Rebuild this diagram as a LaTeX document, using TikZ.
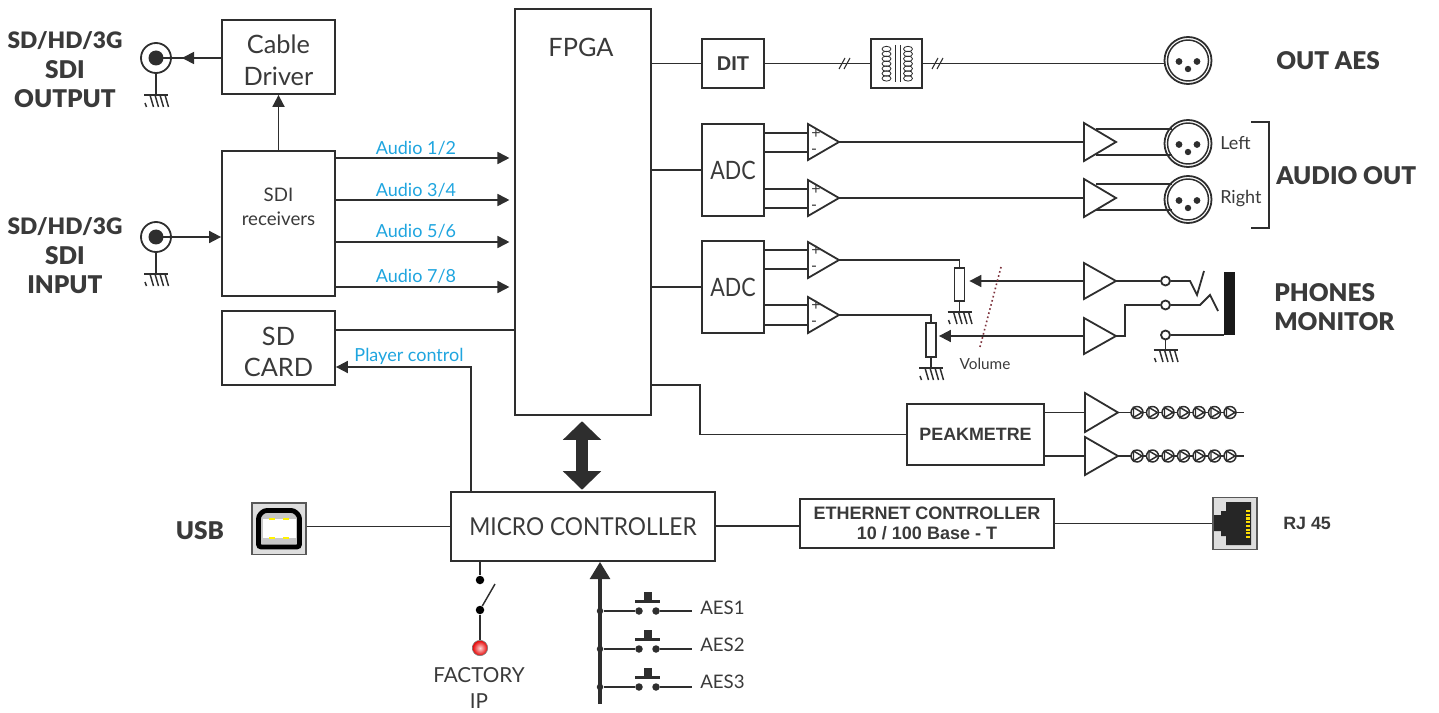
\documentclass[tikz,border=0pt]{standalone}
\usepackage{fontspec}
\setmainfont{Lato}
\newfontfamily\arialf{Liberation Sans}
\newfontfamily\heavy{Lato Black}
\newfontfamily\narrowf[FakeStretch=0.85]{Lato}
\newfontfamily\narrowg[FakeStretch=0.92]{Lato}
\usetikzlibrary{arrows.meta,calc}
\definecolor{ink}{HTML}{2E2E2E}
\definecolor{txt}{HTML}{3A3A3A}
\definecolor{blu}{HTML}{1FA5DF}
\newcommand{\fs}[1]{\fontsize{#1}{#1}\selectfont}
\tikzset{
 x=0.75pt,y=-0.75pt,
 wire/.style={draw=ink,line width=1.35pt},
 thin wire/.style={draw=ink,line width=1.1pt},
 arr/.style={wire,-{Triangle[length=9pt,width=9pt]}},
 box/.style 2 args={draw=ink,line width=1.35pt,fill=white,minimum width=#1*0.75pt,minimum height=#2*0.75pt,inner sep=0pt,align=center,text=txt},
 big/.style={font=\fs{19},text=txt,align=center,inner sep=0pt},
 adcf/.style={font=\narrowf\fs{19}},
 head/.style={font=\heavy\fs{18.3},text=txt,align=center,inner sep=0pt},
 headb/.style={font=\heavy\fs{17},text=txt,align=center,inner sep=0pt},
 blab/.style={font=\fs{13.5},text=blu,inner sep=0pt},
 glab/.style={font=\fs{13},text=txt,inner sep=0pt,align=center},
 port/.style={circle,draw=ink,line width=1.35pt,fill=white,inner sep=0pt,minimum size=#1*0.75pt},
 dot/.style={circle,fill=black,inner sep=0pt,minimum size=#1*0.75pt},
}
\newcommand{\gnd}[2]{%
 \draw[thin wire] (#1-12,#2) -- (#1+12,#2);
 \foreach \k in {0,1,2,3}{\draw[thin wire] (#1-6+\k*5,#2) -- (#1-2.5+\k*5,#2+12);}
 \draw[thin wire] (#1-11,#2+8) -- (#1-9.5,#2+12);}
% name, left x, top y, bottom y, tip x
\newcommand{\amp}[5]{%
 \coordinate (#1) at (#5,{(#3+#4)/2});
 \coordinate (#1-w) at (#2,{(#3+#4)/2});
 \draw[wire,line join=miter,fill=white] (#2,#3) -- (#5,{(#3+#4)/2}) -- (#2,#4) -- cycle;}
\newcommand{\plusminus}[2]{%
 \node[text=txt,inner sep=0pt,font=\fs{12}] at (#1+8,#2-9) {+};
 \node[text=txt,inner sep=0pt,font=\fs{12}] at (#1+6,#2+9) {-};}
\newcommand{\xlr}[3]{%
 \node[port=47] (#1) at (#2,#3) {};
 \draw[thin wire] (#2,#3) circle (20.5);
 \fill[ink] (#2-9,#3+1) circle (3.4);
 \fill[ink] (#2+9,#3+1) circle (3.4);
 \fill[ink] (#2,#3+8.5) circle (3.2);}
\newcommand{\ledrow}[2]{%
 \draw[thin wire] (#1,#2) -- (1244,#2);
 \foreach \k in {0,...,6}{
  \draw[thin wire,fill=white] (1137+\k*15.5,#2) circle (6);
  \draw[thin wire] (1133.5+\k*15.5,#2-5) -- (1142+\k*15.5,#2) -- (1133.5+\k*15.5,#2+5) -- cycle;}}
\begin{document}
\begin{tikzpicture}
\useasboundingbox (0,0) rectangle (1439,713);
% ---- main boxes
\node[box={113}{74}] (cable) at (278.5,57) {};
\node[big] (cablet) at (278.5,60) {Cable\\[5pt]Driver};
\node[box={113}{145}] (sdi) at (278.5,223.5) {};
\node[glab,font=\fs{14}] (sdit) at (278.5,207) {SDI\\[4pt]receivers};
\node[box={113}{74}] (card) at (278.5,348) {};
\node[big] (cardt) at (278.5,352) {SD\\[4pt]CARD};
\node[box={136}{406}] (fpga) at (583,212) {};
\node[big] (fpgat) at (581,47) {FPGA};
\node[box={62}{49},font=\fs{15}\arialf\bfseries] (dit) at (733,63.5) {DIT};
\node[box={51}{49}] (trf) at (896.5,63.5) {};
\node[box={62}{92},adcf] (adca) at (733,170) {ADC};
\node[box={62}{92},adcf] (adcb) at (733,287) {ADC};
\node[box={137}{61},font=\fs{13.4}\arialf\bfseries] (peak) at (975.5,434.5) {PEAKMETRE};
\node[box={264}{69},font=\narrowg\fs{18.5}] (micro) at (583,526.5) {MICRO CONTROLLER};
\node[box={254}{49},font=\fs{13.5}\arialf\bfseries] (eth) at (927,523.5) {ETHERNET CONTROLLER\\[2pt]10 / 100 Base - T};
% ---- coax
\node[port=30] (bnca) at (156,58) {};
\node[port=30] (bncb) at (156,237) {};
\node[dot=15,fill=ink] (bnca-c) at (156,58) {};
\node[dot=15,fill=ink] (bncb-c) at (156,237) {};
\draw[wire] (bnca-c.center) -- (cable.west |- bnca-c);
\draw[arr] (cable.west |- bnca-c) -- (182,58);
\draw[arr,shorten >=0pt] (bncb-c.center) -- (sdi.west |- bncb-c);
\draw[wire] (bnca.south) -- (156,95); \gnd{156}{95}
\draw[wire] (bncb.south) -- (156,274); \gnd{156}{274}
\draw[arr] (sdi.north) -- (cable.south);
\node[headb] at (65,41) {SD/HD/3G}; \node[head] at (65,70) {SDI}; \node[head] at (65,99) {OUTPUT};
\node[headb] at (65,227) {SD/HD/3G}; \node[head] at (65,256) {SDI}; \node[head] at (65,285) {INPUT};
% ---- audio
\foreach \yy/\ly/\lbl in {158/148/{Audio 1\slash 2},200/190/{Audio 3\slash 4},242/231/{Audio 5\slash 6},287/276/{Audio 7\slash 8}}{
 \draw[arr,shorten >=3.5pt] (sdi.east |- 0,\yy) -- (fpga.west |- 0,\yy);
 \node[blab] at (416,\ly) {\lbl};}
\draw[wire] (card.east |- 0,330) -- (fpga.west |- 0,330);
\coordinate (pc) at (471,367);
\draw[arr] (micro.north -| pc) -- (pc) -- (card.east |- pc);
\node[blab] at (409,356) {Player control};
% ---- FPGA outs
\draw[wire] (fpga.east |- dit) -- (dit.west);
\draw[wire] (fpga.east |- adca) -- (adca.west);
\draw[wire] (fpga.east |- adcb) -- (adcb.west);
\coordinate (pk) at (700,385);
\draw[wire] (fpga.east |- pk) -- (pk) -- (pk |- peak) -- (peak.west);
\draw[line width=8.5pt,draw=ink,{Triangle[length=14pt,width=28pt]}-{Triangle[length=14pt,width=28pt]},shorten >=1pt,shorten <=4pt] (fpga.south -| 582,0) -- (micro.north -| 582,0);
% ---- AES out
\xlr{xa}{1188}{60.5}
\draw[thin wire] (dit.east) -- (trf.west);
\draw[thin wire] (trf.east) -- (xa.west |- trf);
\foreach \xx in {839,844,932,937}{\draw[line width=0.8pt,draw=ink] (\xx,69) -- (\xx+6,58);}
\foreach \k in {0,...,6}{
 \draw[line width=0.6pt,draw=ink] (886.5,{49+\k*4.9}) ellipse (4.5 and 2.7);
 \draw[line width=0.6pt,draw=ink] (908,{49+\k*4.9}) ellipse (4.5 and 2.7);}
\draw[line width=0.7pt,draw=ink] (895,45) -- (895,82) (900,45) -- (900,82);
\node[head,anchor=west] at (1276,61) {OUT AES};
% ---- audio out
\amp{oa}{808}{124}{160}{839}\plusminus{808}{142.5}
\amp{ob}{808}{180}{216}{839}\plusminus{808}{198.5}
\amp{oc}{808}{242}{278}{839}\plusminus{808}{260}
\amp{od}{808}{297}{333}{839}\plusminus{808}{315}
\foreach \yy in {133,152}{\draw[wire] (adca.east |- 0,\yy) -- (808,\yy);}
\foreach \yy in {189,208}{\draw[wire] (adca.east |- 0,\yy) -- (808,\yy);}
\foreach \yy in {250,269}{\draw[wire] (adcb.east |- 0,\yy) -- (808,\yy);}
\foreach \yy in {305,325}{\draw[wire] (adcb.east |- 0,\yy) -- (808,\yy);}
\xlr{xb}{1188}{143.5}
\xlr{xc}{1188}{199.5}
\amp{ba}{1084}{123}{161}{1116}
\amp{bb}{1084}{179}{217}{1116}
\draw[wire] (oa) -- (ba-w);
\draw[wire] (ob) -- (bb-w);
\draw[wire] (1096,129) -- (1172,129) (1096,155) -- (1172,155);
\draw[wire] (1096,184) -- (1172,184) (1096,210) -- (1172,210);
\node[glab,anchor=west,font=\fs{13.5}] at (1220,143) {Left};
\node[glab,anchor=west,font=\fs{13.5}] at (1220,199) {Right};
\draw[wire] (1251,122) -- (1269,122) -- (1269,228) -- (1251,228);
\node[head,anchor=west] at (1276,176) {AUDIO OUT};
% ---- phones
\node[draw=ink,line width=1.35pt,fill=white,minimum width=7.5pt,minimum height=24.5pt,inner sep=0pt] (pa) at (959.5,284.5) {};
\node[draw=ink,line width=1.35pt,fill=white,minimum width=7.5pt,minimum height=25.5pt,inner sep=0pt] (pb) at (931,340) {};
\draw[wire] (oc) -- (pa.north |- oc) -- (pa.north);
\draw[wire] (od) -- (pb.north |- od) -- (pb.north);
\draw[wire] (pa.south) -- (959.5,312); \gnd{959.5}{312}
\draw[wire] (pb.south) -- (931,368); \gnd{931}{368}
\amp{bc}{1084}{263}{299}{1116}
\amp{bd}{1084}{318}{354}{1116}
\draw[wire,-{Triangle[length=9pt,width=9pt]},shorten >=3pt] (bc-w) -- (pa.east |- bc-w);
\draw[wire,-{Triangle[length=9pt,width=9pt]},shorten >=1.5pt] (bd-w) -- (pb.east |- bd-w);
\draw[draw={rgb,255:red,125;green,50;blue,60},line width=1.2pt,dotted] (1001,267) -- (980,347);
\node[glab,font=\fs{11.5}] at (985,364) {Volume};
\node[port=9] (ja) at (1165.5,281) {};
\node[port=9] (jb) at (1165.5,305) {};
\node[port=9] (jc) at (1165.5,335) {};
\node[fill=black!90,minimum width=8.2pt,minimum height=47.5pt,inner sep=0pt] (jack) at (1229.5,303.5) {};
\draw[wire] (bc) -- (ja);
\coordinate (bend) at (1125,336);
\draw[wire] (bd) -- (bend) -- (bend |- jb) -- (jb);
\draw[wire,line join=miter] (ja) -- (1190,281) -- (1197,295) -- (1204,271);
\draw[wire,line join=miter] (jb) -- (1200,305) -- (1210,295) -- (1218,311);
\draw[wire] (jc) -- (jack.west |- jc);
\draw[wire] (jc) -- (1165.5,350); \gnd{1165.5}{350}
\node[head,anchor=west] at (1274,293) {PHONES};
\node[head,anchor=west] at (1274,322) {MONITOR};
% ---- peak
\amp{pp}{1085}{393}{432}{1118}
\amp{pq}{1085}{437}{475}{1118}
\draw[wire] (peak.east |- pp-w) -- (pp-w);
\draw[wire] (peak.east |- pq-w) -- (pq-w);
\ledrow{1118}{412.5}
\ledrow{1118}{456}
% ---- USB
\node[draw=ink!80,line width=1pt,fill=black!13,minimum width=40.5pt,minimum height=38.5pt,inner sep=0pt] (usb) at (279,528.5) {};
\draw[draw=black,line width=3.6pt,fill=black!22,rounded corners=2pt] (264,510.5) -- (294,510.5) -- (299.5,516) -- (299.5,547) -- (258.5,547) -- (258.5,516) -- cycle;
\fill[white] (263,519) rectangle (296,538);
\foreach \xx/\yy in {269/518,283/518,269/537,283/537}{\fill[yellow] (\xx,\yy) rectangle (\xx+6,\yy+2);}
\draw[wire] (usb.east |- micro) -- (micro.west);
\node[head] at (200,531) {USB};
% ---- ethernet
\draw[wire] (micro.east |- 0,526) -- (eth.west |- 0,526);
\node[draw=ink!80,line width=1pt,fill=black!13,minimum width=33pt,minimum height=39pt,inner sep=0pt] (rj) at (1235,523.5) {};
\fill[black!85] (1226,502) -- (1251,502) -- (1251,545) -- (1226,545) -- (1226,536) -- (1221,536) -- (1221,531) -- (1214,531) -- (1214,515) -- (1221,515) -- (1221,511) -- (1226,511) -- cycle;
\foreach \k in {0,...,7}{\fill[yellow!80!orange] (1246,{510+\k*3.7}) rectangle (1250,{512.2+\k*3.7});}
\draw[thin wire] (eth.east) -- (rj.west);
\node[font=\fs{13.4}\arialf\bfseries,text=txt,anchor=west,inner sep=0pt] at (1283,523) {RJ 45};
% ---- factory switch
\node[dot=8.5] (sa) at (480,580) {};
\node[dot=8.5] (sb) at (480,610) {};
\node[circle,inner sep=0pt,minimum size=11.5pt,inner color=red!15,outer color=red!90!black,draw=ink!60,line width=0.5pt] (led) at (480,648) {};
\coordinate (sc) at (495,584);
\draw[thin wire] (micro.south -| sa) -- (sa);
\draw[thin wire] (sb) -- (sc);
\draw[wire] (sb) -- (led);
\node[glab,font=\fs{15.5}] at (479,675) {FACTORY};
\node[glab,font=\fs{15.5}] at (479,701) {IP};
% ---- AES buttons
\coordinate (bus) at (600,704);
\draw[line width=2.6pt,draw=ink,-{Triangle[length=13pt,width=15pt]}] (bus) -- (micro.south -| bus);
\foreach \yy/\ly/\nm in {611/608/AES1,649/645/AES2,687/682/AES3}{
 \node[dot=6.5,fill=ink] (d\nm) at (600,\yy) {};
 \node[dot=7.5,fill=ink] (e\nm) at (639,\yy) {};
 \node[dot=7.5,fill=ink] (f\nm) at (656,\yy) {};
 \coordinate (g\nm) at (692,\yy);
 \draw[thin wire] (d\nm) -- (e\nm);
 \draw[thin wire] (f\nm) -- (g\nm);
 \fill[ink] (635,\yy-11.5) rectangle (660,\yy-8.5);
 \fill[ink] (644,\yy-19) rectangle (651.5,\yy-9);
 \node[glab,anchor=west,font=\fs{14}] at (700,\ly) {\nm};}
\end{tikzpicture}
\end{document}
